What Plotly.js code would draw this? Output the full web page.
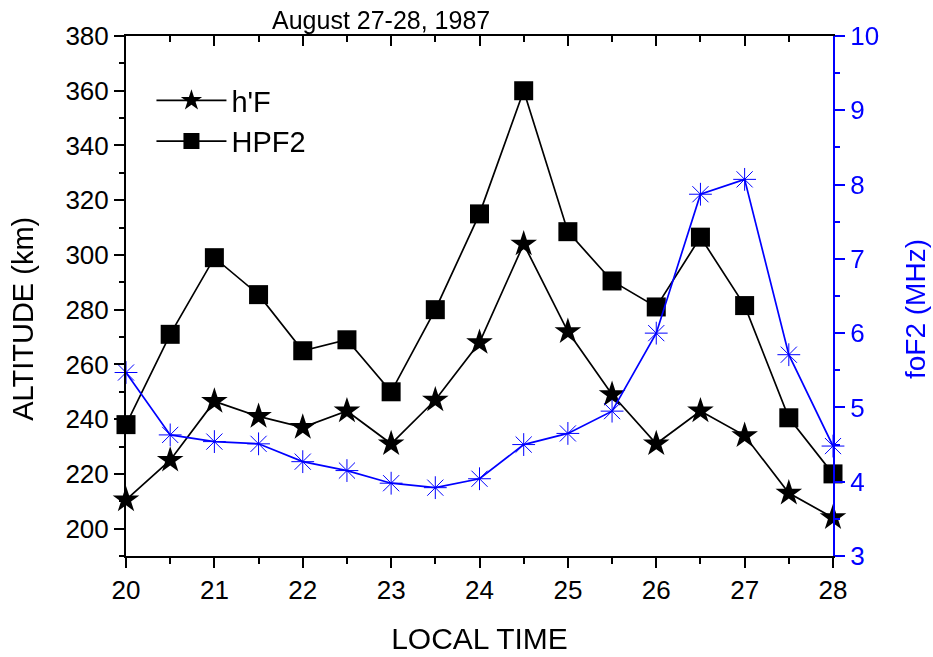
<!DOCTYPE html>
<html>
<head>
<meta charset="utf-8">
<script src="https://cdn.plot.ly/plotly-3.0.1.min.js"></script>
<style>html,body{margin:0;padding:0;background:#fff;}#chart{width:933px;height:657px;}</style>
</head>
<body>
<div id="chart"></div>
<script>
const hours = [20, 20.5, 21, 21.5, 22, 22.5, 23, 23.5, 24, 24.5, 25, 25.5, 26, 26.5, 27, 27.5, 28];
const hPrimeF = [210.5, 225, 246.5, 241, 237, 243, 231, 247, 268, 304, 272, 249, 231, 243, 234, 213, 204];
const hpf2 = [238, 271, 299, 285.5, 265, 269, 250, 280, 315, 360, 308.5, 290.5, 281, 306.5, 281.5, 240.5, 220];
const foF2 = [5.47, 4.63, 4.54, 4.51, 4.27, 4.15, 3.98, 3.92, 4.04, 4.5, 4.65, 4.95, 6.0, 7.87, 8.07, 5.71, 4.48];
const xTicks = [20, 21, 22, 23, 24, 25, 26, 27, 28];

const FONT = 'Liberation Sans, Arial, sans-serif';

const traces = [
  {x: hours, y: hPrimeF, name: "h'F", type: 'scatter', mode: 'lines+markers',
   line: {color: '#000', width: 1.7}, marker: {symbol: 'star', size: 20, color: '#000'},
   cliponaxis: false, hoverinfo: 'skip'},
  {x: hours, y: hpf2, name: 'HPF2', type: 'scatter', mode: 'lines+markers',
   line: {color: '#000', width: 1.7}, marker: {symbol: 'square', size: 19, color: '#000'},
   cliponaxis: false, hoverinfo: 'skip'},
  {x: hours, y: foF2, name: 'foF2', yaxis: 'y2', type: 'scatter', mode: 'lines+markers',
   line: {color: '#0000ff', width: 1.7}, marker: {symbol: 'asterisk-open', size: 19, color: '#0000ff', line: {color: '#0000ff', width: 1}},
   showlegend: false, cliponaxis: false, hoverinfo: 'skip'},
  {x: hours, y: hpf2, xaxis: 'x2', type: 'scatter', mode: 'markers', opacity: 0,
   showlegend: false, hoverinfo: 'skip'}
];

const layout = {
  width: 933, height: 657,
  margin: {l: 126, r: 100, t: 36, b: 101},
  paper_bgcolor: '#fff', plot_bgcolor: '#fff',
  font: {family: FONT, size: 26, color: '#000'},
  showlegend: true,
  legend: {x: 0.036, y: 0.925, xanchor: 'left', yanchor: 'top', bgcolor: 'rgba(0,0,0,0)',
           font: {family: FONT, size: 29, color: '#000'}, itemwidth: 70, tracegroupgap: 0},
  xaxis: {range: [20, 28], tickvals: xTicks, ticktext: xTicks.map(String),
          showgrid: false, zeroline: false, showline: true, linecolor: '#000', linewidth: 2,
          ticks: 'outside', ticklen: 10, tickwidth: 2, tickcolor: '#000',
          minor: {dtick: 0.5, ticks: 'outside', ticklen: 6, tickwidth: 2, tickcolor: '#000'},
          tickfont: {family: FONT, size: 26, color: '#000'},
          title: {text: 'LOCAL TIME', font: {family: FONT, size: 30, color: '#000'}, standoff: 24}},
  xaxis2: {overlaying: 'x', side: 'top', range: [20, 28], dtick: 1, tick0: 20,
           showgrid: false, zeroline: false, showline: true, linecolor: '#000', linewidth: 2,
           ticks: 'inside', ticklen: 10, tickwidth: 2, tickcolor: '#000', showticklabels: false,
           minor: {dtick: 0.5, ticks: 'inside', ticklen: 6, tickwidth: 2, tickcolor: '#000'}},
  yaxis: {range: [190, 380], tick0: 200, dtick: 20,
          showgrid: false, zeroline: false, showline: true, linecolor: '#000', linewidth: 2,
          ticks: 'outside', ticklen: 10, tickwidth: 2, tickcolor: '#000',
          minor: {dtick: 10, ticks: 'outside', ticklen: 5, tickwidth: 2, tickcolor: '#000'},
          tickfont: {family: FONT, size: 26, color: '#000'}},
  yaxis2: {overlaying: 'y', side: 'right', range: [3, 10], dtick: 1,
           showgrid: false, zeroline: false, showline: true, linecolor: '#0000ff', linewidth: 2,
           ticks: 'outside', ticklen: 10, tickwidth: 2, tickcolor: '#0000ff',
           minor: {dtick: 0.5, ticks: 'outside', ticklen: 5, tickwidth: 2, tickcolor: '#0000ff'},
           tickfont: {family: FONT, size: 26, color: '#0000ff'}},
  annotations: [
    {text: 'August 27-28, 1987', xref: 'paper', yref: 'paper', x: 0.361, y: 1.0,
     xanchor: 'center', yanchor: 'bottom', yshift: 0, showarrow: false,
     font: {family: FONT, size: 25, color: '#000'}},
    {text: 'ALTITUDE (km)', xref: 'paper', yref: 'paper', x: -0.1457, y: 0.456,
     xanchor: 'center', yanchor: 'middle', textangle: -90, showarrow: false,
     font: {family: FONT, size: 29, color: '#000'}},
    {text: 'foF2 (MHz)', xref: 'paper', yref: 'paper', x: 1.116, y: 0.475,
     xanchor: 'center', yanchor: 'middle', textangle: -90, showarrow: false,
     font: {family: FONT, size: 28, color: '#0000ff'}}
  ]
};

Plotly.newPlot('chart', traces, layout, {displayModeBar: false, staticPlot: true});
</script>
</body>
</html>
